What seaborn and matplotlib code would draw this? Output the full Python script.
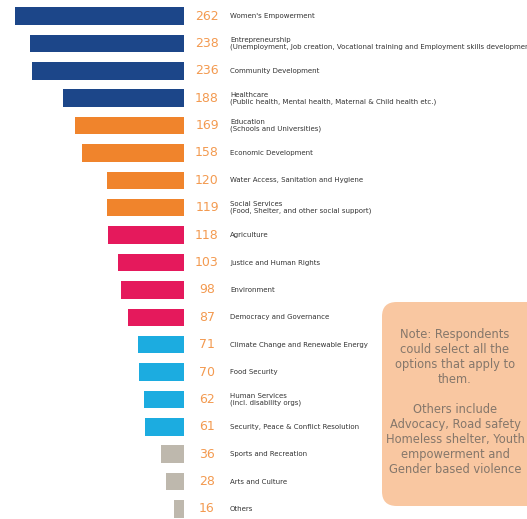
import matplotlib
matplotlib.use("Agg")
import matplotlib.pyplot as plt
from matplotlib.patches import FancyBboxPatch
import seaborn as sns
import pandas as pd

categories = [
    "Women's Empowerment",
    "Entrepreneurship\n(Unemployment, Job creation, Vocational training and Employment skills development)",
    "Community Development",
    "Healthcare\n(Public health, Mental health, Maternal & Child health etc.)",
    "Education\n(Schools and Universities)",
    "Economic Development",
    "Water Access, Sanitation and Hygiene",
    "Social Services\n(Food, Shelter, and other social support)",
    "Agriculture",
    "Justice and Human Rights",
    "Environment",
    "Democracy and Governance",
    "Climate Change and Renewable Energy",
    "Food Security",
    "Human Services\n(incl. disability orgs)",
    "Security, Peace & Conflict Resolution",
    "Sports and Recreation",
    "Arts and Culture",
    "Others",
]
counts = [262, 238, 236, 188, 169, 158, 120, 119, 118, 103, 98, 87, 71, 70, 62, 61, 36, 28, 16]
groups = ["A"] * 4 + ["B"] * 4 + ["C"] * 4 + ["D"] * 4 + ["E"] * 3
group_colors = {"A": "#1C4689", "B": "#F0842C", "C": "#E5195C", "D": "#1CACE0", "E": "#BEB8AD"}

note_text = ("Note: Respondents\ncould select all the\noptions that apply to\nthem.\n\n"
             "Others include\nAdvocacy, Road safety\nHomeless shelter, Youth\n"
             "empowerment and\nGender based violence")

df = pd.DataFrame({"category": categories, "count": counts, "group": groups})

W, H = 527, 519
fig = plt.figure(figsize=(W / 100, H / 100), dpi=100)
fig.patch.set_facecolor("white")
ax = fig.add_axes([0, 0, 1, 1])

sns.barplot(data=df, x="count", y="category", hue="group", palette=group_colors,
            dodge=False, legend=False, width=0.64, saturation=1, ax=ax, orient="h")

# bars grow leftwards from a baseline at x = 184 px
scale = 169 / 262.0
ax.set_xlim(184 / scale, -(W - 184) / scale)
step = (509 - 16) / 18.0
ax.set_ylim(18 + (H - 509) / step, -16 / step)
ax.axis("off")

trans = ax.get_yaxis_transform()
for i, (cat, val) in enumerate(zip(categories, counts)):
    ax.text(207 / W, i, f"{val}", transform=trans, ha="center", va="center",
            fontsize=9, color="#F39A50")
    ax.text(230 / W, i, cat, transform=trans, ha="left", va="center",
            fontsize=5.0, color="#333333", linespacing=1.1, clip_on=False)

# note box on the right
box_l, box_r, box_t, box_b = 382, 545, 302, 506
box = FancyBboxPatch((box_l / W, 1 - box_b / H), (box_r - box_l) / W, (box_b - box_t) / H,
                     boxstyle="round,pad=0,rounding_size=0.028", transform=fig.transFigure,
                     facecolor="#F9C7A1", edgecolor="none", zorder=5)
fig.patches.append(box)
fig.text(455 / W, 1 - 402 / H, note_text, ha="center", va="center", fontsize=8.3,
         color="#85776B", linespacing=1.2, zorder=6)

fig.savefig("out.png", dpi=100, facecolor="white")
